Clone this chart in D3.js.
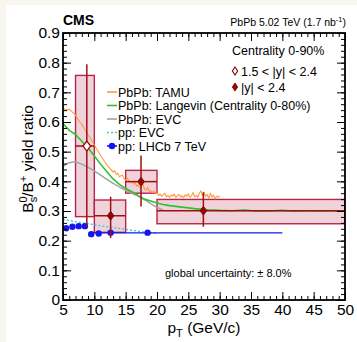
<!DOCTYPE html>
<html>
<head>
<meta charset="utf-8">
<script src="https://cdn.jsdelivr.net/npm/d3@7"></script>
<style>
  html, body { margin: 0; padding: 0; background: #f8f6ee; }
  svg { display: block; }
  text { font-family: "Liberation Sans", Arial, Helvetica, sans-serif; fill: #000; }
</style>
</head>
<body>
<div id="chart"></div>
<script>
// ---- data ----
// TAMU (PbPb), jagged model curve
const tamuPt = [5, 5.5, 6, 6.5, 7, 7.5, 8, 8.5, 9, 9.5, 10, 10.5, 11, 11.5, 12, 12.5, 13,
  13.25, 13.5, 13.75, 14, 14.25, 14.5, 14.75, 15, 15.25, 15.5, 15.75, 16, 16.25, 16.5, 16.75,
  17, 17.25, 17.5, 17.75, 18, 18.25, 18.5, 18.75, 19, 19.25, 19.5, 19.75, 20, 20.25, 20.5, 20.75,
  21, 21.25, 21.5, 21.75, 22, 22.25, 22.5, 22.75, 23, 23.25, 23.5, 23.75, 24, 24.25, 24.5, 24.75,
  25, 25.25, 25.5, 25.75, 26, 26.25, 26.5, 26.75, 27, 27.25, 27.5, 27.75, 28, 28.25, 28.5, 28.75,
  29, 29.25, 29.5, 29.75, 30];
const tamuRatio = [0.646, 0.640, 0.643, 0.633, 0.624, 0.604, 0.592, 0.574, 0.556, 0.541, 0.522, 0.505, 0.487, 0.471, 0.455, 0.444, 0.431,
  0.436, 0.424, 0.427, 0.415, 0.419, 0.421, 0.409, 0.404, 0.411, 0.402, 0.396, 0.399, 0.391, 0.397, 0.384,
  0.388, 0.379, 0.383, 0.392, 0.374, 0.371, 0.380, 0.366, 0.369, 0.362, 0.367, 0.358, 0.361, 0.352, 0.357, 0.349,
  0.355, 0.360, 0.348, 0.353, 0.346, 0.354, 0.350, 0.357, 0.345, 0.351, 0.356, 0.347, 0.352, 0.344, 0.355, 0.349,
  0.358, 0.346, 0.351, 0.362, 0.348, 0.353, 0.345, 0.359, 0.368, 0.352, 0.364, 0.349, 0.356, 0.343, 0.360, 0.347,
  0.354, 0.341, 0.350, 0.346, 0.352];

// Langevin (PbPb, centrality 0-80%)
const langevinPt = [5, 6, 7, 8, 9, 10, 11, 12, 13, 14, 15, 16, 17, 18, 19, 20, 21, 22, 24, 26, 28, 30, 32, 34, 36, 38, 40, 42, 44, 46, 48, 50];
const langevinRatio = [0.595, 0.572, 0.558, 0.535, 0.512, 0.485, 0.458, 0.432, 0.408, 0.390, 0.376, 0.365, 0.352, 0.340, 0.334, 0.327, 0.322, 0.318, 0.313, 0.308, 0.304, 0.302, 0.301, 0.303, 0.299, 0.300, 0.302, 0.299, 0.301, 0.299, 0.301, 0.300];

// EVC (PbPb)
const evcPbPt = [5, 5.5, 6, 6.5, 7, 8, 9, 10, 11, 12, 13, 14, 15, 16, 17, 18, 19, 20, 21];
const evcPbRatio = [0.449, 0.458, 0.463, 0.465, 0.465, 0.458, 0.447, 0.435, 0.421, 0.407, 0.393, 0.381, 0.370, 0.360, 0.350, 0.338, 0.325, 0.312, 0.303];

// EVC (pp)
const evcPpPt = [5, 6, 7, 8, 9, 10, 11, 12, 13, 14, 15, 16, 17, 18, 19, 20];
const evcPpRatio = [0.272, 0.268, 0.264, 0.260, 0.257, 0.254, 0.250, 0.247, 0.244, 0.241, 0.238, 0.235, 0.232, 0.229, 0.227, 0.225];

// LHCb pp 7 TeV points and line
const lhcbPt = [5.5, 6.5, 7.5, 8.5, 9.5, 10.7, 12.6, 18.5];
const lhcbRatio = [0.242, 0.247, 0.249, 0.249, 0.222, 0.224, 0.227, 0.227];
const lhcbLinePt = [9.5, 40];
const lhcbLineRatio = [0.226, 0.226];

// CMS |y| < 2.4 (filled)
const cmsBinLo = [10, 15, 20];
const cmsBinHi = [15, 20, 50];
const cmsPt = [12.6, 17.45, 27.4];
const cmsRatio = [0.284, 0.399, 0.301];
const cmsSysLo = [0.228, 0.360, 0.257];
const cmsSysHi = [0.337, 0.437, 0.339];
const cmsStatLo = [0.209, 0.315, 0.247];
const cmsStatHi = [0.348, 0.487, 0.363];

// CMS 1.5 < |y| < 2.4 (open)
const fwdBinLo = [7];
const fwdBinHi = [10];
const fwdPt = [8.8];
const fwdRatio = [0.519];
const fwdSysLo = [0.281];
const fwdSysHi = [0.757];
const fwdStatLo = [0.245];
const fwdStatHi = [0.795];

const xMajorTicks = [5, 10, 15, 20, 25, 30, 35, 40, 45, 50];
const yMajorTicks = [0, 0.1, 0.2, 0.3, 0.4, 0.5, 0.6, 0.7, 0.8, 0.9];

// ---- layout ----
const width = 357;
const height = 342;
const frame = { left: 63, right: 345, top: 33, bottom: 300 };

const col = {
  tamu: '#ff9a3c',
  langevin: '#2ec12e',
  evcPb: '#a3a3a3',
  evcPp: '#3cd0d8',
  lhcb: '#1414f0',
  boxFill: '#f0d2db',
  boxStroke: '#b8254a',
  err: '#a01010',
  marker: '#8e0808'
};

const svg = d3.select('#chart')
  .append('svg')
  .attr('width', width)
  .attr('height', height);

svg.append('rect')
  .attr('x', 6).attr('y', 5)
  .attr('width', width - 6).attr('height', height - 5)
  .attr('fill', '#fff');

const x = d3.scaleLinear().domain([5, 50]).range([frame.left, frame.right]);
const y = d3.scaleLinear().domain([0, 0.9]).range([frame.bottom, frame.top]);

const plot = svg.append('g');

// clip to frame
svg.append('clipPath').attr('id', 'clip')
  .append('rect')
  .attr('x', frame.left).attr('y', frame.top)
  .attr('width', frame.right - frame.left).attr('height', frame.bottom - frame.top);

const inner = plot.append('g').attr('clip-path', 'url(#clip)');

// systematic boxes
function drawBoxes(lo, hi, sLo, sHi) {
  inner.append('g')
    .selectAll('rect')
    .data(lo.map((d, i) => i))
    .enter()
    .append('rect')
    .attr('x', i => x(lo[i]))
    .attr('width', i => x(hi[i]) - x(lo[i]))
    .attr('y', i => y(sHi[i]))
    .attr('height', i => y(sLo[i]) - y(sHi[i]))
    .attr('fill', col.boxFill)
    .attr('stroke', col.boxStroke)
    .attr('stroke-width', 1.4);
}
drawBoxes(fwdBinLo, fwdBinHi, fwdSysLo, fwdSysHi);
drawBoxes(cmsBinLo, cmsBinHi, cmsSysLo, cmsSysHi);

// model curves
function drawCurve(px, py, color, w, dash) {
  const line = d3.line()
    .x(d => x(d[0]))
    .y(d => y(d[1]));
  inner.append('path')
    .datum(px.map((p, i) => [p, py[i]]))
    .attr('d', line)
    .attr('fill', 'none')
    .attr('stroke', color)
    .attr('stroke-width', w)
    .attr('stroke-linejoin', 'round')
    .attr('stroke-dasharray', dash || null);
}
drawCurve(evcPpPt, evcPpRatio, col.evcPp, 1.5, '2,2');
drawCurve(evcPbPt, evcPbRatio, col.evcPb, 1.5);
drawCurve(langevinPt, langevinRatio, col.langevin, 1.6);
drawCurve(tamuPt, tamuRatio, col.tamu, 1.1);

// LHCb line + points
drawCurve(lhcbLinePt, lhcbLineRatio, col.lhcb, 1.3);
inner.append('g')
  .selectAll('circle')
  .data(lhcbPt.map((p, i) => [p, lhcbRatio[i]]))
  .enter()
  .append('circle')
  .attr('cx', d => x(d[0]))
  .attr('cy', d => y(d[1]))
  .attr('r', 3.2)
  .attr('fill', col.lhcb);

// CMS points with stat errors
function diamond(cx, cy, hw, hh) {
  return `M${cx},${cy - hh}L${cx + hw},${cy}L${cx},${cy + hh}L${cx - hw},${cy}Z`;
}
function drawPoints(lo, hi, pt, val, stLo, stHi, open) {
  const g = inner.append('g');
  pt.forEach((p, i) => {
    g.append('line')
      .attr('x1', x(p)).attr('x2', x(p))
      .attr('y1', y(stLo[i])).attr('y2', y(stHi[i]))
      .attr('stroke', col.err).attr('stroke-width', 1.5);
    g.append('line')
      .attr('x1', x(lo[i])).attr('x2', x(hi[i]))
      .attr('y1', y(val[i])).attr('y2', y(val[i]))
      .attr('stroke', col.err).attr('stroke-width', 1.5);
    g.append('path')
      .attr('d', open ? diamond(x(p), y(val[i]), 3.8, 5) : diamond(x(p), y(val[i]), 3.4, 4.4))
      .attr('fill', open ? '#fff' : col.marker)
      .attr('stroke', col.marker)
      .attr('stroke-width', open ? 1.3 : 1);
  });
}
drawPoints(fwdBinLo, fwdBinHi, fwdPt, fwdRatio, fwdStatLo, fwdStatHi, true);
drawPoints(cmsBinLo, cmsBinHi, cmsPt, cmsRatio, cmsStatLo, cmsStatHi, false);

// ---- axes (ticks inside frame, ROOT style) ----
const xMinor = d3.range(5, 50.01, 1);
const yMinor = d3.range(0, 0.901, 0.02);

function styleAxis(g) {
  g.select('.domain').remove();
  g.selectAll('line').attr('stroke', '#000').attr('stroke-width', 1);
}

plot.append('g')
  .attr('transform', `translate(0,${frame.bottom})`)
  .call(d3.axisBottom(x).tickValues(xMajorTicks).tickSizeInner(-8).tickSizeOuter(0).tickPadding(4).tickFormat(d3.format('d')))
  .call(styleAxis)
  .call(g => g.selectAll('text').style('font-size', '15.5px').attr('fill', '#000'));
plot.append('g')
  .attr('transform', `translate(0,${frame.bottom})`)
  .call(d3.axisBottom(x).tickValues(xMinor).tickSizeInner(-4).tickSizeOuter(0).tickFormat(''))
  .call(styleAxis);
plot.append('g')
  .attr('transform', `translate(0,${frame.top})`)
  .call(d3.axisTop(x).tickValues(xMajorTicks).tickSizeInner(-8).tickSizeOuter(0).tickFormat(''))
  .call(styleAxis);
plot.append('g')
  .attr('transform', `translate(0,${frame.top})`)
  .call(d3.axisTop(x).tickValues(xMinor).tickSizeInner(-4).tickSizeOuter(0).tickFormat(''))
  .call(styleAxis);

plot.append('g')
  .attr('transform', `translate(${frame.left},0)`)
  .call(d3.axisLeft(y).tickValues(yMajorTicks).tickSizeInner(-8).tickSizeOuter(0).tickPadding(3)
    .tickFormat(d => d === 0 ? '0' : d3.format('.1f')(d)))
  .call(styleAxis)
  .call(g => g.selectAll('text').style('font-size', '15.5px').attr('fill', '#000'));
plot.append('g')
  .attr('transform', `translate(${frame.left},0)`)
  .call(d3.axisLeft(y).tickValues(yMinor).tickSizeInner(-4).tickSizeOuter(0).tickFormat(''))
  .call(styleAxis);
plot.append('g')
  .attr('transform', `translate(${frame.right},0)`)
  .call(d3.axisRight(y).tickValues(yMajorTicks).tickSizeInner(-8).tickSizeOuter(0).tickFormat(''))
  .call(styleAxis);
plot.append('g')
  .attr('transform', `translate(${frame.right},0)`)
  .call(d3.axisRight(y).tickValues(yMinor).tickSizeInner(-4).tickSizeOuter(0).tickFormat(''))
  .call(styleAxis);

// frame
plot.append('rect')
  .attr('x', frame.left).attr('y', frame.top)
  .attr('width', frame.right - frame.left).attr('height', frame.bottom - frame.top)
  .attr('fill', 'none')
  .attr('stroke', '#000')
  .attr('stroke-width', 1.8);

// ---- titles ----
svg.append('text')
  .attr('x', frame.left).attr('y', 25)
  .style('font-size', '14px').style('font-weight', 'bold')
  .text('CMS');

const hdr = svg.append('text')
  .attr('x', 346).attr('y', 26)
  .attr('text-anchor', 'end')
  .style('font-size', '10.5px');
hdr.append('tspan').text('PbPb 5.02 TeV (1.7 nb');
hdr.append('tspan').attr('dy', -4).style('font-size', '7.5px').text('-1');
hdr.append('tspan').attr('dy', 4).text(')');

// x title
const xt = svg.append('text')
  .attr('x', (frame.left + frame.right) / 2).attr('y', 333)
  .attr('text-anchor', 'middle')
  .style('font-size', '15.5px');
xt.append('tspan').text('p');
xt.append('tspan').attr('dy', 4).style('font-size', '11px').text('T');
xt.append('tspan').attr('dy', -4).text(' (GeV/c)');

// y title
const yt = svg.append('text')
  .attr('transform', `translate(33,${frame.top + 72}) rotate(-90)`)
  .attr('text-anchor', 'end')
  .style('font-size', '15.5px');
yt.append('tspan').text('B');
yt.append('tspan').attr('dy', -6).style('font-size', '11px').text('0');
yt.append('tspan').attr('dx', -6).attr('dy', 10).style('font-size', '11px').text('s');
yt.append('tspan').attr('dy', -4).text('/B');
yt.append('tspan').attr('dy', -6).style('font-size', '11px').text('+');
yt.append('tspan').attr('dy', 6).text(' yield ratio');

// ---- legends ----
svg.append('text')
  .attr('x', 232).attr('y', 55)
  .style('font-size', '12.5px')
  .text('Centrality 0-90%');

const dataLeg = [
  { label: '1.5 < |y| < 2.4', open: true, yy: 71 },
  { label: '|y| < 2.4', open: false, yy: 87 }
];
dataLeg.forEach(d => {
  svg.append('path')
    .attr('d', diamond(235, d.yy, 2.6, 4))
    .attr('fill', d.open ? '#fff' : col.marker)
    .attr('stroke', col.marker)
    .attr('stroke-width', d.open ? 1.2 : 1);
  svg.append('text')
    .attr('x', 241).attr('y', d.yy + 4.5)
    .style('font-size', '12.5px')
    .text(d.label);
});

const modelLeg = [
  { label: 'PbPb: TAMU', color: col.tamu, dash: null, dot: false },
  { label: 'PbPb: Langevin (Centrality 0-80%)', color: col.langevin, dash: null, dot: false },
  { label: 'PbPb: EVC', color: col.evcPb, dash: null, dot: false },
  { label: 'pp: EVC', color: col.evcPp, dash: '2,2', dot: false },
  { label: 'pp: LHCb 7 TeV', color: col.lhcb, dash: null, dot: true }
];
const legY0 = 92;
const legStep = 13.5;
modelLeg.forEach((d, i) => {
  const yy = legY0 + i * legStep;
  svg.append('line')
    .attr('x1', 107).attr('x2', 117)
    .attr('y1', yy).attr('y2', yy)
    .attr('stroke', d.color)
    .attr('stroke-width', 1.6)
    .attr('stroke-dasharray', d.dash);
  if (d.dot) {
    svg.append('circle').attr('cx', 112).attr('cy', yy).attr('r', 3.2).attr('fill', d.color);
  }
  svg.append('text')
    .attr('x', 118).attr('y', yy + 4.5)
    .style('font-size', '12.5px')
    .text(d.label);
});

svg.append('text')
  .attr('x', 165).attr('y', 277)
  .style('font-size', '11px')
  .text('global uncertainty: \u00b1 8.0%');
</script>
</body>
</html>
